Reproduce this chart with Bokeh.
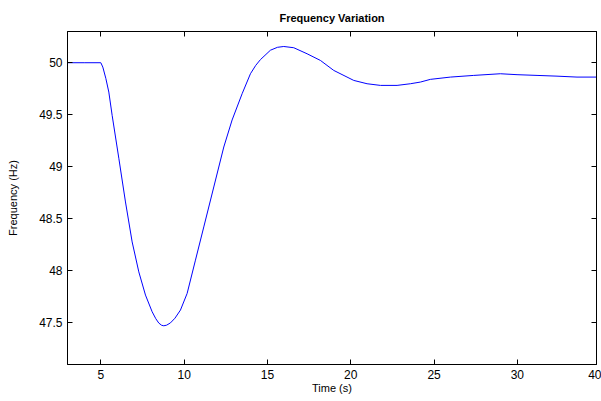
from bokeh.plotting import figure
from bokeh.models import LinearAxis, FixedTicker
from bokeh.embed import file_html
from bokeh.resources import INLINE

# Data
time_s = [3.0, 4.0, 5.0, 5.12, 5.3, 5.48, 5.68, 6.08, 6.48, 6.88, 7.28, 7.68, 8.08, 8.3,
          8.48, 8.65, 8.78, 8.95, 9.18, 9.45, 9.78, 10.18, 10.68, 11.18, 11.78, 12.38,
          12.88, 13.48, 13.98, 14.3, 14.58, 15.18, 15.6, 15.98, 16.58, 17.38, 18.18,
          18.98, 20.18, 20.98, 21.78, 22.78, 23.58, 24.18, 24.78, 25.98, 27.38, 28.98,
          29.98, 31.18, 32.38, 33.58, 34.78]
freq_hz = [50.0, 50.0, 50.0, 49.958, 49.85, 49.718, 49.494, 49.082, 48.662, 48.278,
           47.990, 47.767, 47.607, 47.54, 47.498, 47.477, 47.472, 47.478, 47.500,
           47.545, 47.623, 47.783, 48.103, 48.422, 48.806, 49.190, 49.45, 49.702,
           49.894, 49.975, 50.030, 50.120, 50.148, 50.156, 50.144, 50.086, 50.022,
           49.926, 49.830, 49.798, 49.782, 49.782, 49.798, 49.814, 49.840, 49.862,
           49.878, 49.894, 49.885, 49.878, 49.871, 49.862, 49.862]

x_ticks = [5, 10, 15, 20, 25, 30, 34.75]
x_tick_labels = ["5", "10", "15", "20", "25", "30", "40"]
y_ticks = [47.5, 48, 48.5, 49, 49.5, 50]
y_tick_labels = ["47.5", "48", "48.5", "49", "49.5", "50"]

FONT = "Liberation Sans"

p = figure(width=601, height=401, x_range=(3, 34.75), y_range=(47.1, 50.3),
           output_backend="svg", toolbar_location=None,
           min_border_left=67, min_border_right=5, min_border_top=31, min_border_bottom=37)

p.title.text = "Frequency Variation"
p.title.align = "center"
p.title.text_font = FONT
p.title.text_font_size = "11px"
p.title.text_font_style = "bold"
p.title.text_color = "black"
p.title.standoff = 15

p.line(time_s, freq_hz, line_color="#0000ff", line_width=1)

p.grid.visible = False
p.outline_line_color = "black"
p.outline_line_width = 1
p.outline_line_alpha = 1
p.background_fill_color = "white"
p.border_fill_color = "white"

def style_axis(ax, ticks, labels, show_labels=True):
    ax.ticker = FixedTicker(ticks=ticks)
    ax.major_tick_in = 5
    ax.major_tick_out = 0
    ax.minor_tick_line_color = None
    ax.axis_line_color = "black"
    ax.major_tick_line_color = "black"
    ax.axis_label_text_font = FONT
    ax.axis_label_text_font_size = "11px"
    ax.axis_label_text_font_style = "normal"
    ax.axis_label_text_color = "black"
    if show_labels:
        ax.major_label_overrides = {t: l for t, l in zip(ticks, labels)}
        ax.major_label_text_font = FONT
        ax.major_label_text_font_size = "12px"
        ax.major_label_text_color = "black"
    else:
        ax.major_label_text_font_size = "1px"
        ax.major_label_text_color = None
        ax.major_label_standoff = 0

xa = p.xaxis[0]
style_axis(xa, x_ticks, x_tick_labels)
xa.axis_label = "Time (s)"
xa.major_label_standoff = 5
xa.axis_label_standoff = 0

ya = p.yaxis[0]
style_axis(ya, y_ticks, y_tick_labels)
ya.axis_label = "Frequency (Hz)"
ya.major_label_standoff = 5
ya.axis_label_standoff = 17

top = LinearAxis()
style_axis(top, x_ticks, x_tick_labels, show_labels=False)
p.add_layout(top, "above")

right = LinearAxis()
style_axis(right, y_ticks, y_tick_labels, show_labels=False)
p.add_layout(right, "right")

open("out.html", "w").write(file_html(p, INLINE))
